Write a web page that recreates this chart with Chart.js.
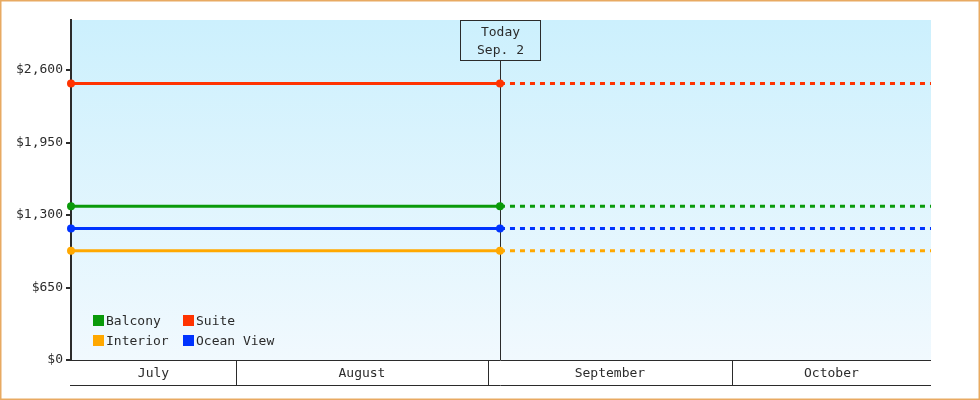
<!DOCTYPE html>
<html>
<head>
<meta charset="utf-8">
<script src="https://cdn.jsdelivr.net/npm/chart.js@4.4.1/dist/chart.umd.min.js"></script>
<style>
  html, body { margin: 0; padding: 0; background: #fff; }
  #wrap { width: 980px; height: 400px; }
</style>
</head>
<body>
<div id="wrap"><canvas id="chart" width="980" height="400"></canvas></div>
<script>
// data
const categories = ['Balcony', 'Suite', 'Interior', 'Ocean View'];
const prices = [1379, 2479, 979, 1179];
const seriesColors = ['#0a9a0a', '#ff3300', '#ffa800', '#0033ff'];

const monthLabels = ['July', 'August', 'September', 'October'];
const monthStarts = ['2024-07-01', '2024-08-01', '2024-09-01', '2024-10-01', '2024-11-01'];
const rangeStart = '2024-07-11T17:00';
const todayDate = '2024-09-02T11:30';
const rangeEnd = '2024-10-25T12:00';
const todayLabel = ['Today', 'Sep. 2'];

const yTicks = [0, 650, 1300, 1950, 2600];
const yMax = 3049;

const FONT = '"DejaVu Sans Mono", "Liberation Mono", monospace';
const INK = '#2b2b2b';

function day(s) {
  return Date.parse(s + (s.length > 10 ? ':00Z' : 'T00:00:00Z')) / 86400000;
}

const xStart = day(rangeStart);
const xToday = day(todayDate);
const xEnd = day(rangeEnd);

const datasets = categories.map((name, i) => ({
  label: name,
  data: [
    { x: xStart, y: prices[i] },
    { x: xToday, y: prices[i] },
    { x: xEnd, y: prices[i] }
  ],
  borderColor: seriesColors[i],
  backgroundColor: seriesColors[i],
  borderWidth: 3,
  pointRadius: [4, 4, 0],
  pointBorderWidth: 0,
  pointHoverRadius: 4,
  clip: false,
  segment: {
    borderDash: ctx => (ctx.p0.parsed.x >= xToday ? [5, 5] : undefined)
  }
}));

const decor = {
  id: 'decor',
  beforeDraw(chart) {
    const { ctx, chartArea: a } = chart;
    ctx.save();
    const g = ctx.createLinearGradient(0, a.top, 0, a.bottom);
    g.addColorStop(0, '#ccf0fd');
    g.addColorStop(1, '#f1f9fe');
    ctx.fillStyle = g;
    ctx.fillRect(a.left, a.top, a.right - a.left, a.bottom - a.top);
    ctx.strokeStyle = '#e8aa62';
    ctx.lineWidth = 1.5;
    ctx.strokeRect(0.75, 0.75, chart.width - 1.5, chart.height - 1.5);
    ctx.restore();
  },
  beforeDatasetsDraw(chart) {
    const { ctx, chartArea: a, scales } = chart;
    const x = Math.round(scales.x.getPixelForValue(xToday)) + 0.5;
    ctx.save();
    ctx.strokeStyle = INK;
    ctx.lineWidth = 1;
    ctx.beginPath();
    ctx.moveTo(x, a.top + 40);
    ctx.lineTo(x, a.bottom);
    ctx.stroke();
    ctx.strokeRect(x - 40, a.top + 0.5, 80, 40);
    ctx.fillStyle = INK;
    ctx.font = '13px ' + FONT;
    ctx.textAlign = 'center';
    ctx.textBaseline = 'middle';
    ctx.fillText(todayLabel[0], x, a.top + 13);
    ctx.fillText(todayLabel[1], x, a.top + 31);
    ctx.restore();
  },
  afterDraw(chart) {
    const { ctx, chartArea: a, scales } = chart;
    ctx.save();
    // month row under the plot
    const top = a.bottom + 0.5, bot = a.bottom + 25.5;
    ctx.strokeStyle = INK;
    ctx.lineWidth = 1;
    ctx.beginPath();
    ctx.moveTo(a.left - 1, top); ctx.lineTo(a.right, top);
    ctx.moveTo(a.left - 1, bot); ctx.lineTo(a.right, bot);
    ctx.stroke();
    ctx.font = '13px ' + FONT;
    ctx.fillStyle = INK;
    ctx.textAlign = 'center';
    ctx.textBaseline = 'middle';
    monthLabels.forEach((m, i) => {
      const l = Math.max(a.left, scales.x.getPixelForValue(day(monthStarts[i])));
      const r = Math.min(a.right, scales.x.getPixelForValue(day(monthStarts[i + 1])));
      if (i > 0) {
        const xl = Math.round(l) + 0.5;
        ctx.beginPath();
        ctx.moveTo(xl, top); ctx.lineTo(xl, bot);
        ctx.stroke();
      }
      ctx.fillText(m, (l + r) / 2, a.bottom + 14);
    });
    // legend inside the plot
    ctx.textAlign = 'left';
    const cols = [a.left + 22, a.left + 112];
    categories.forEach((name, i) => {
      const cx = cols[i % 2];
      const cy = a.bottom - 40 + Math.floor(i / 2) * 20;
      ctx.fillStyle = seriesColors[i];
      ctx.fillRect(cx, cy - 5, 11, 11);
      ctx.fillStyle = INK;
      ctx.fillText(name, cx + 13, cy + 1.5);
    });
    ctx.restore();
  }
};

new Chart(document.getElementById('chart'), {
  type: 'line',
  data: { datasets },
  options: {
    responsive: false,
    animation: false,
    events: [],
    layout: { padding: { top: 20, right: 49, bottom: 40, left: 0 } },
    plugins: { legend: { display: false }, tooltip: { enabled: false } },
    scales: {
      x: {
        type: 'linear',
        display: false,
        min: xStart,
        max: xEnd
      },
      y: {
        min: 0,
        max: yMax,
        afterFit(scale) { scale.width = 71; },
        afterBuildTicks(scale) { scale.ticks = yTicks.map(v => ({ value: v })); },
        border: { display: true, color: INK, width: 2 },
        grid: { drawOnChartArea: false, color: INK, lineWidth: 2, tickLength: 5 },
        ticks: {
          color: INK,
          padding: 3,
          font: { family: FONT, size: 13 },
          callback: v => '$' + Number(v).toLocaleString('en-US')
        }
      }
    }
  },
  plugins: [decor]
});
</script>
</body>
</html>
